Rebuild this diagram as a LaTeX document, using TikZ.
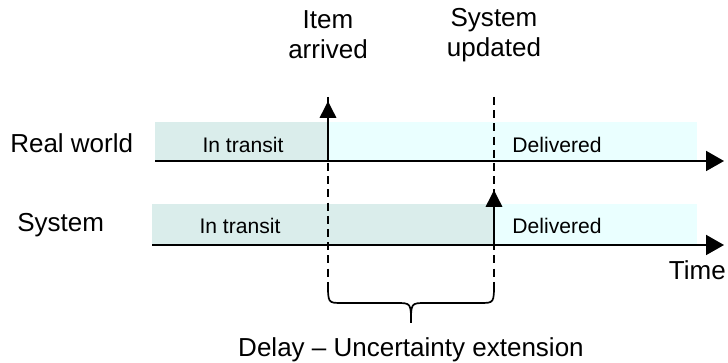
\documentclass[tikz,border=0pt]{standalone}
\usepackage{fontspec}
\setmainfont{Liberation Sans}
\usetikzlibrary{arrows.meta}

\definecolor{transit}{RGB}{218,237,235}
\definecolor{delivered}{RGB}{234,255,255}

\tikzset{
  biglabel/.style={font=\fontsize{18.5}{21.5}\selectfont,inner sep=0pt},
  smalllabel/.style={font=\fontsize{15}{18}\selectfont,inner sep=0pt},
  timeaxis/.style={line width=1.4pt,-{Triangle[width=0.5cm,length=0.45cm]}},
  event/.style={line width=2.1pt,-{Triangle[width=0.4cm,length=0.42cm]}},
  marker/.style={line width=1.2pt,dash pattern=on 0.2cm off 0.13cm}
}

\begin{document}
\begin{tikzpicture}
\useasboundingbox (0,0) rectangle (18.2,9.075);

% named points
\coordinate (rwstart) at (3.875,5.05);
\coordinate (rwend) at (18.1,5.05);
\coordinate (sysstart) at (3.8,2.95);
\coordinate (sysend) at (18.1,2.95);
\coordinate (arrbase) at (8.2,5.05);
\coordinate (arrtip) at (8.2,6.55);
\coordinate (updbase) at (12.35,2.95);
\coordinate (updtip) at (12.35,4.325);
\coordinate (arrtop) at (8.2,6.65);
\coordinate (arrbot) at (8.2,2.0);
\coordinate (updtop) at (12.35,6.65);
\coordinate (updbot) at (12.35,2.0);

% bands
\fill[transit] (3.875,5.05) rectangle (8.2,6.025);
\fill[delivered] (8.2,5.05) rectangle (17.425,6.025);
\fill[transit] (3.8,2.95) rectangle (12.35,3.975);
\fill[delivered] (12.35,2.95) rectangle (17.425,3.975);

% dashed event lines
\draw[marker] (arrtop) -- (arrbot);
\draw[marker] (updtop) -- (updbot);

% brace
\draw[line width=1.2pt] (arrbot) .. controls (8.2,1.5) .. (8.55,1.5) -- (9.9,1.5)
  .. controls (10.275,1.5) .. (10.275,1.0) .. controls (10.275,1.5) .. (10.65,1.5)
  -- (12.0,1.5) .. controls (12.35,1.5) .. (updbot);

% time axes
\draw[timeaxis] (rwstart) -- (rwend);
\draw[timeaxis] (sysstart) -- (sysend);

% events
\draw[event] (arrbase) -- (arrtip);
\draw[event] (updbase) -- (updtip);

\node[biglabel,align=center] (arrived) at (8.2,8.2) {Item\\arrived};
\node[biglabel,align=center] (updated) at (12.35,8.2) {System\\updated};
\node[biglabel,anchor=west] (realworld) at (0.25,5.5) {Real world};
\node[biglabel,anchor=west] (system) at (0.425,3.45) {System};
\node[smalllabel] (rwtransit) at (6.075,5.45) {In transit};
\node[smalllabel] (systransit) at (6.0,3.425) {In transit};
\node[smalllabel] (rwdelivered) at (13.925,5.45) {Delivered};
\node[smalllabel] (sysdelivered) at (13.925,3.425) {Delivered};
\node[biglabel,anchor=east] (time) at (18.15,2.325) {Time};
\node[biglabel] (delay) at (10.275,0.325) {Delay -- Uncertainty extension};
\end{tikzpicture}
\end{document}
